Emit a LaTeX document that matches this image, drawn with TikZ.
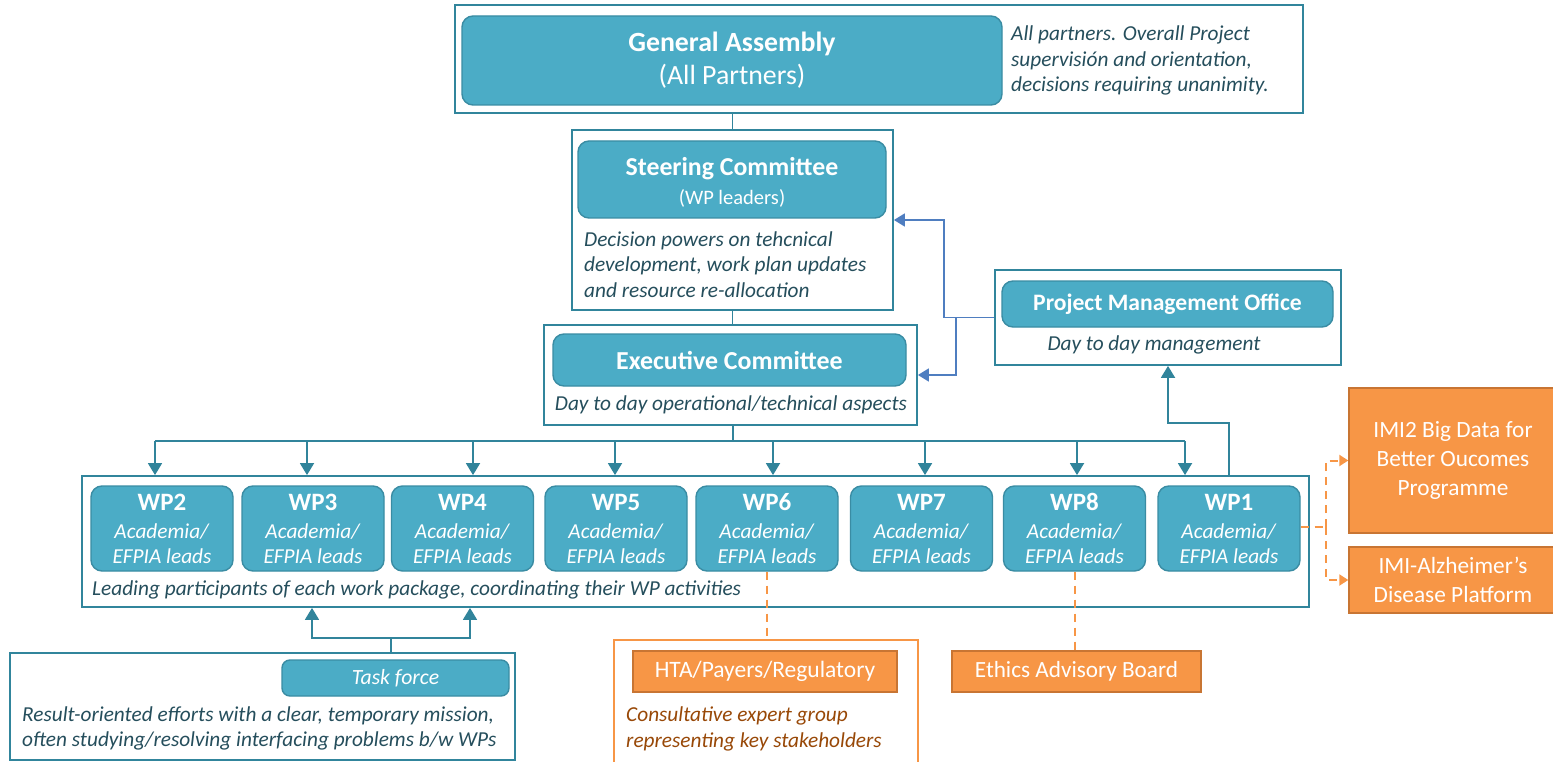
\documentclass[tikz,border=0pt]{standalone}
\usepackage{fontspec}
\setmainfont{Carlito}
\usetikzlibrary{arrows.meta}

\definecolor{tealfill}{HTML}{4BACC6}
\definecolor{tealedge}{HTML}{3A8CA3}
\definecolor{frameline}{HTML}{31859C}
\definecolor{desctext}{HTML}{254E5C}
\definecolor{linkteal}{HTML}{31849B}
\definecolor{linkblue}{HTML}{4F7EC0}
\definecolor{orangefill}{HTML}{F79646}
\definecolor{orangeedge}{HTML}{C87533}
\definecolor{orangetext}{HTML}{984807}

\tikzset{
  frame/.style={draw=frameline, line width=1.8pt, fill=white, inner sep=0pt},
  unit/.style={draw=tealedge, line width=1.4pt, fill=tealfill, rounded corners=11pt,
    text=white, align=center, inner sep=0pt},
  note/.style={text=desctext, font=\fontsize{21.3pt}{25.5pt}\selectfont\itshape, inner sep=0pt},
  ext/.style={draw=orangeedge, line width=1.4pt, fill=orangefill, text=white,
    align=center, inner sep=0pt},
  link/.style={draw=linkteal, line width=1.8pt},
  linkarrow/.style={link, -{Triangle[width=14pt,length=12pt]}},
  pmolink/.style={draw=linkblue, line width=1.8pt, -{Triangle[width=13pt,length=11pt]}},
  advisory/.style={draw=orangefill, line width=2pt, dash pattern=on 8pt off 6pt},
  advisoryarrow/.style={advisory, -{Triangle[width=11pt,length=9pt]}},
  wpbox/.style={unit, minimum width=142pt, minimum height=85pt,
    font=\fontsize{21.3pt}{25pt}\selectfont},
}
\newcommand{\wptext}[1]{{\bfseries\fontsize{25pt}{25pt}\selectfont #1}\\[3pt]\textit{Academia/}\\\textit{EFPIA leads}}

\begin{document}
\begin{tikzpicture}[x=1pt,y=-1pt]
\useasboundingbox (0,0) rectangle (1553,762);
\clip (0,0) rectangle (1553,762);

% ---------- General Assembly ----------
\node[frame, minimum width=848pt, minimum height=108pt] (gaframe) at (879,59) {};
\node[unit, minimum width=540pt, minimum height=89pt,
      font=\fontsize{27.8pt}{33pt}\selectfont] (ga) at (732,60.5)
  {\textbf{General Assembly}\\(All Partners)};
\node[note, anchor=west, align=left] (ganote) at (1011,60.5)
  {All partners. Overall Project\\supervisión and orientation,\\decisions requiring unanimity.};

% ---------- Steering Committee ----------
\node[frame, minimum width=321pt, minimum height=180pt] (scframe) at (732.5,220) {};
\node[unit, minimum width=308pt, minimum height=77pt,
      font=\fontsize{20.5pt}{29pt}\selectfont] (sc) at (732,179.5) {};
\node[text=white, inner sep=0pt, align=center,
      font=\fontsize{20.5pt}{29pt}\selectfont] (sctext) at (732,182.5)
  {{\bfseries\fontsize{25.8pt}{29pt}\selectfont Steering Committee}\\(WP leaders)};
\node[note, anchor=west, align=left] (scnote) at (584,264.5)
  {Decision powers on tehcnical\\development, work plan updates\\and resource re-allocation};

% ---------- Executive Committee ----------
\node[frame, minimum width=373pt, minimum height=100pt] (ecframe) at (730.5,375) {};
\node[unit, minimum width=353pt, minimum height=52pt,
      font=\fontsize{25.9pt}{29pt}\selectfont\bfseries] (ec) at (729.5,360)
  {Executive Committee};
\node[note] (ecnote) at (731,405) {Day to day operational/technical aspects};

% ---------- Project Management Office ----------
\node[frame, minimum width=346pt, minimum height=95pt] (pmoframe) at (1168,317.5) {};
\node[unit, minimum width=331pt, minimum height=46pt,
      font=\fontsize{23.6pt}{27pt}\selectfont\bfseries] (pmo) at (1167.5,304)
  {Project Management Office};
\node[note] (pmonote) at (1154,345) {Day to day management};

% ---------- Work packages ----------
\node[frame, minimum width=1227pt, minimum height=131pt] (wpframe) at (695.5,541.5) {};
\node[wpbox] (wp2) at (162,528.5) {\wptext{WP2}};
\node[wpbox] (wp3) at (313,528.5) {\wptext{WP3}};
\node[wpbox] (wp4) at (462.5,528.5) {\wptext{WP4}};
\node[wpbox] (wp5) at (616,528.5) {\wptext{WP5}};
\node[wpbox] (wp6) at (767,528.5) {\wptext{WP6}};
\node[wpbox] (wp7) at (921.5,528.5) {\wptext{WP7}};
\node[wpbox] (wp8) at (1074.5,528.5) {\wptext{WP8}};
\node[wpbox] (wp1) at (1229,528.5) {\wptext{WP1}};
\node[note, anchor=west] (wpnote) at (92,590)
  {Leading participants of each work package, coordinating their WP activities};

% ---------- Task force ----------
\node[frame, minimum width=505pt, minimum height=107pt] (tfframe) at (262.5,706.5) {};
\node[unit, rounded corners=8pt, minimum width=227pt, minimum height=36pt,
      font=\fontsize{21.7pt}{25pt}\selectfont\itshape] (tf) at (395.5,678) {Task force};
\node[note, anchor=west, align=left] (tfnote) at (22,728.5)
  {Result-oriented efforts with a clear, temporary mission,\\often studying/resolving interfacing problems b/w WPs};

% ---------- External advisory bodies ----------
\node[draw=orangefill, line width=1.8pt, fill=white, minimum width=304pt,
      minimum height=140pt, inner sep=0pt] (htaframe) at (766,710) {};
\node[ext, minimum width=264pt, minimum height=41pt,
      font=\fontsize{23.5pt}{26pt}\selectfont] (hta) at (765,671.5) {HTA/Payers/Regulatory};
\node[note, text=orangetext, anchor=west, align=left] (htanote) at (626,729)
  {Consultative expert group\\representing key stakeholders};
\node[ext, minimum width=249pt, minimum height=41pt,
      font=\fontsize{23.2pt}{26pt}\selectfont] (ethics) at (1076.5,671.5) {Ethics Advisory Board};

\node[ext, minimum width=208pt, minimum height=145pt,
      font=\fontsize{23.3pt}{29pt}\selectfont] (imi2) at (1453,460.5)
  {IMI2 Big Data for\\Better Oucomes\\Programme};
\node[ext, minimum width=208pt, minimum height=66pt,
      font=\fontsize{23.3pt}{29pt}\selectfont] (imialz) at (1453,580)
  {IMI-Alzheimer’s\\Disease Platform};

% ---------- Governance links ----------
\draw[link] (scframe.north |- gaframe.south) -- (scframe.north);
\draw[link] (scframe.south) -- (scframe.south |- ecframe.north);

\coordinate (bus) at (733,441);
\coordinate (busleft) at (155,441);
\coordinate (busright) at (1185,441);
\draw[link] (bus |- ecframe.south) -- (bus);
\draw[link] (busleft) -- (busright);
\foreach \x in {155,307,473,615,773,925,1077,1185}
  \draw[linkarrow] (\x,441) -- (\x,441 |- wpframe.north);

% PMO support to the committees
\draw[pmolink] (pmoframe.west) -- ++(-50,0) |- (scframe.east);
\draw[pmolink] (pmoframe.west) ++(-38,0) |- (ecframe.east);

% WP1 reporting to the PMO
\draw[linkarrow] (wp1 |- wpframe.north) -- ++(0,-52) -| (pmoframe.south);

% Task force feeding the work packages
\coordinate (tfjoint) at (391,638);
\coordinate (tfleft) at (312,638);
\coordinate (tfright) at (470,638);
\draw[link] (tfjoint |- tfframe.north) -- (tfjoint);
\draw[linkarrow] (tfjoint) -- (tfleft) -- (tfleft |- wpframe.south);
\draw[linkarrow] (tfjoint) -- (tfright) -- (tfright |- wpframe.south);

% Advisory connections
\draw[advisory] (wp6.south) -- (wp6.south |- htaframe.north);
\draw[advisory] (wp8.south) -- (wp8.south |- ethics.north);
\coordinate (split) at (1326,527);
\draw[advisory] (wp1.east |- split) -- (split);
\draw[advisoryarrow] (split) |- (imi2.west);
\draw[advisoryarrow] (split) |- (imialz.west);
\end{tikzpicture}
\end{document}
